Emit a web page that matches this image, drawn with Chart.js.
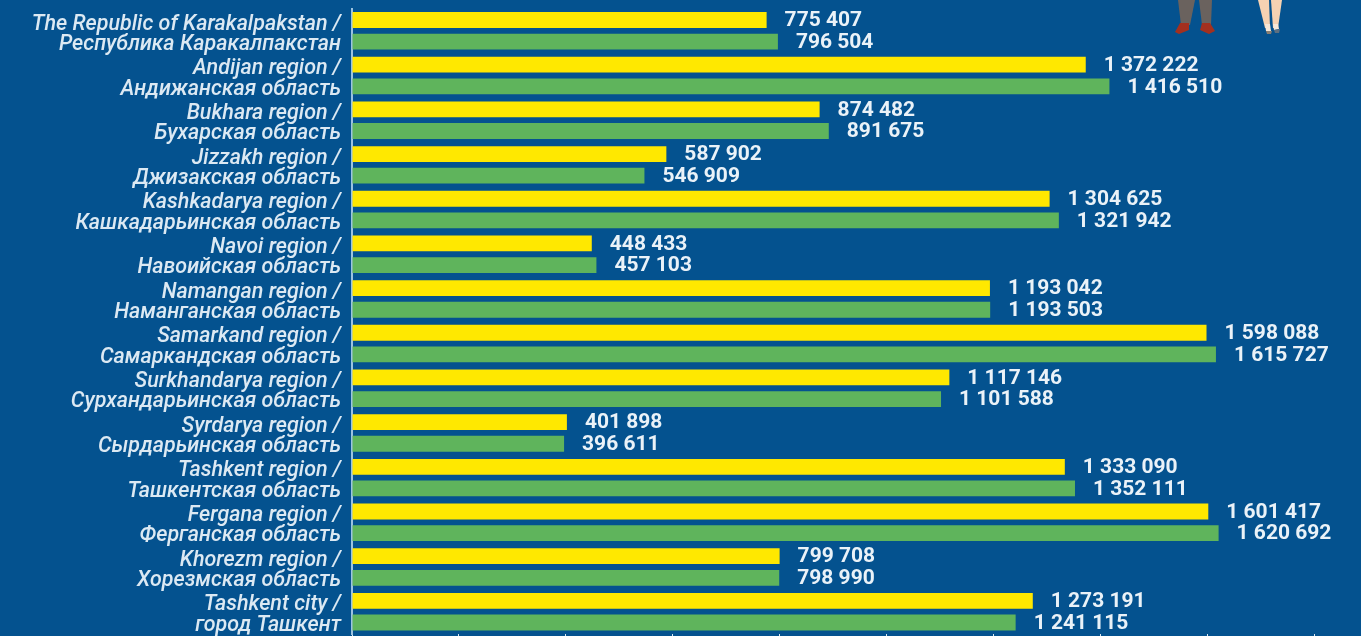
<!DOCTYPE html>
<html>
<head>
<meta charset="utf-8">
<title>Population by region</title>
<script src="https://cdn.jsdelivr.net/npm/chart.js"></script>
<style>
html, body { margin: 0; padding: 0; background: #04528f; overflow: hidden; }
#wrap { width: 1361px; height: 636px; }
</style>
</head>
<body>
<div id="wrap"><canvas id="bar-chart" width="1361" height="636"></canvas></div>
<script>
// Region names, English / Russian on two lines
var regions = [
    ['The Republic of Karakalpakstan /', 'Республика Каракалпакстан'],
    ['Andijan region /', 'Андижанская область'],
    ['Bukhara region /', 'Бухарская область'],
    ['Jizzakh region /', 'Джизакская область'],
    ['Kashkadarya region /', 'Кашкадарьинская область'],
    ['Navoi region /', 'Навоийская область'],
    ['Namangan region /', 'Наманганская область'],
    ['Samarkand region /', 'Самаркандская область'],
    ['Surkhandarya region /', 'Сурхандарьинская область'],
    ['Syrdarya region /', 'Сырдарьинская область'],
    ['Tashkent region /', 'Ташкентская область'],
    ['Fergana region /', 'Ферганская область'],
    ['Khorezm region /', 'Хорезмская область'],
    ['Tashkent city /', 'город Ташкент']
];

var yellowValues = [775407, 1372222, 874482, 587902, 1304625, 448433, 1193042, 1598088, 1117146, 401898, 1333090, 1601417, 799708, 1273191];
var greenValues = [796504, 1416510, 891675, 546909, 1321942, 457103, 1193503, 1615727, 1101588, 396611, 1352111, 1620692, 798990, 1241115];

var axisMax = 1887000;
var tickValues = [0, 200000, 400000, 600000, 800000, 1000000, 1200000, 1400000, 1600000, 1800000];

function formatValue(v) {
    return String(v).replace(/\B(?=(\d{3})+$)/g, ' ');
}

// Numbers at the end of each bar
var valueLabels = {
    id: 'valueLabels',
    afterDatasetsDraw: function (chart) {
        var ctx = chart.ctx;
        ctx.save();
        ctx.font = '700 21px Roboto';
        ctx.fillStyle = '#eaf2f8';
        ctx.textAlign = 'left';
        ctx.textBaseline = 'middle';
        chart.data.datasets.forEach(function (ds, i) {
            chart.getDatasetMeta(i).data.forEach(function (bar, j) {
                ctx.fillText(formatValue(ds.data[j]), bar.x + 18, bar.y + 1);
            });
        });
        ctx.restore();
    }
};

// Feet of the two figures cut off by the top edge
var figures = {
    id: 'figures',
    afterDraw: function (chart) {
        var ctx = chart.ctx;
        function poly(color, pts) {
            ctx.fillStyle = color;
            ctx.beginPath();
            ctx.moveTo(pts[0], pts[1]);
            for (var i = 2; i < pts.length; i += 2) ctx.lineTo(pts[i], pts[i + 1]);
            ctx.closePath();
            ctx.fill();
        }
        ctx.save();
        poly('#6a625e', [1178, 0, 1195, 0, 1190, 25, 1181, 25]);
        poly('#6a625e', [1199, 0, 1212, 0, 1211, 25, 1202, 25]);
        poly('#a3301f', [1180, 23, 1189, 23, 1189, 30, 1179, 34, 1175, 32]);
        poly('#a3301f', [1202, 23, 1210, 23, 1215, 31, 1209, 34, 1200, 30]);
        poly('#f6d2b2', [1258, 0, 1269, 0, 1270, 28, 1265, 28]);
        poly('#f6d2b2', [1271, 0, 1282, 0, 1278, 28, 1273, 28]);
        poly('#f7e8d8', [1265, 24, 1270, 24, 1271, 31, 1266, 31]);
        poly('#f7e8d8', [1273, 24, 1278, 24, 1279, 29, 1274, 30]);
        poly('#8a7f72', [1266, 31, 1272, 31, 1271, 34, 1267, 34]);
        poly('#5d6f80', [1274, 30, 1280, 29, 1279, 33, 1275, 33]);
        ctx.restore();
    }
};

var barChart = new Chart(document.getElementById('bar-chart'), {
    type: 'bar',
    data: {
        labels: regions,
        datasets: [
            { data: yellowValues, backgroundColor: '#ffe800', categoryPercentage: 0.97, barPercentage: 0.73 },
            { data: greenValues, backgroundColor: '#5fb45c', categoryPercentage: 0.97, barPercentage: 0.73 }
        ]
    },
    options: {
        indexAxis: 'y',
        responsive: false,
        animation: false,
        layout: { padding: { top: 8.5, right: 0, bottom: 0, left: 0 } },
        plugins: {
            legend: { display: false },
            title: { display: false },
            tooltip: { enabled: false }
        },
        scales: {
            x: {
                min: 0,
                max: axisMax,
                grid: { drawOnChartArea: false, drawTicks: true, tickLength: 2, tickColor: '#dce9f3', tickWidth: 1 },
                border: { display: false },
                ticks: { display: false },
                afterBuildTicks: function (scale) {
                    scale.ticks = tickValues.map(function (v) { return { value: v }; });
                }
            },
            y: {
                grid: { display: false, drawTicks: false },
                border: { display: true, color: '#9cc3e0', width: 2 },
                ticks: {
                    color: '#dce9f3',
                    padding: 11,
                    crossAlign: 'near',
                    autoSkip: false,
                    labelOffset: 3.5,
                    font: { family: 'Roboto', style: 'italic', weight: '500', size: 21.5, lineHeight: 0.95 }
                },
                afterFit: function (scale) {
                    scale.width = 352;
                    // two-line labels would otherwise push the plot area in
                    scale.paddingTop = 0;
                    scale.paddingBottom = 0;
                }
            }
        }
    },
    plugins: [valueLabels, figures]
});
</script>
</body>
</html>
